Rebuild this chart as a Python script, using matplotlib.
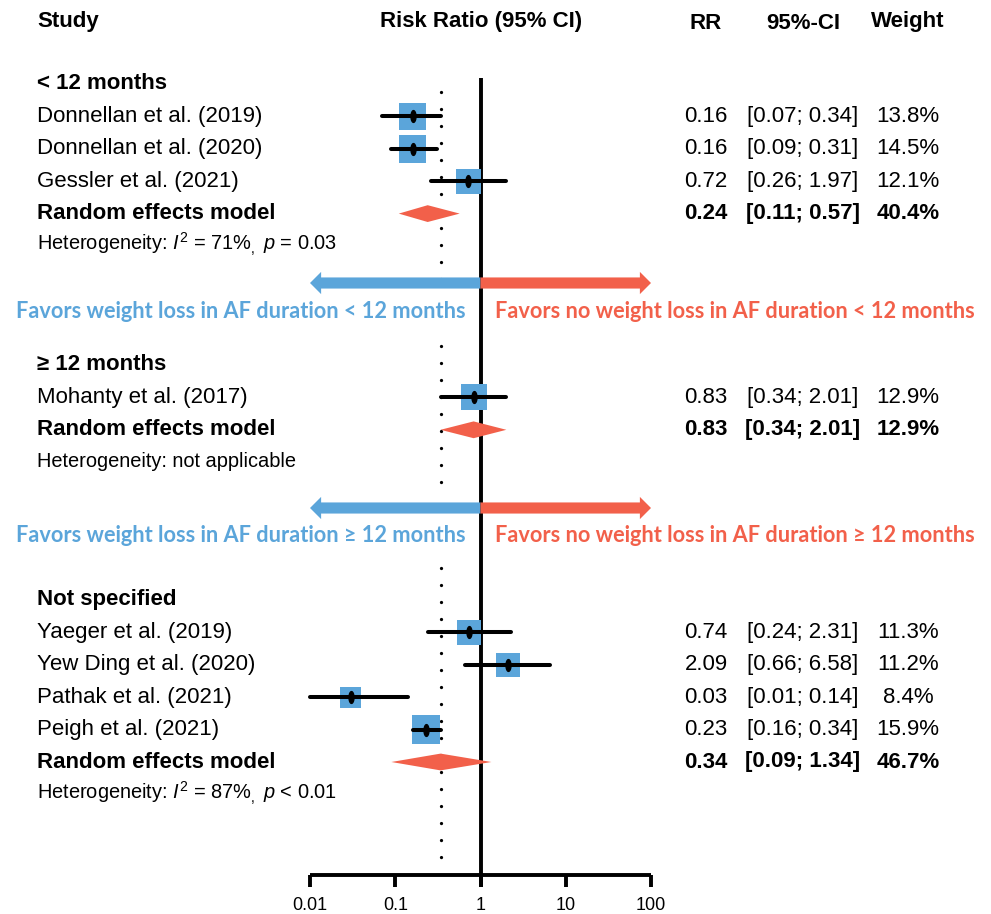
import matplotlib
matplotlib.use("Agg")
import matplotlib.pyplot as plt
import numpy as np
from matplotlib.patches import Polygon, FancyArrowPatch
from matplotlib.path import Path

plt.rcParams['font.family'] = ['Liberation Sans', 'DejaVu Sans']
plt.rcParams['mathtext.fontset'] = 'custom'
plt.rcParams['mathtext.rm'] = 'Liberation Sans'
plt.rcParams['mathtext.it'] = 'Liberation Sans:italic'
plt.rcParams['mathtext.bf'] = 'Liberation Sans:bold'

# ---------------- data ----------------
section_names = ['< 12 months', '\u2265 12 months', 'Not specified']

studies_s1 = ['Donnellan et al. (2019)', 'Donnellan et al. (2020)', 'Gessler et al. (2021)']
rr_s1 = [0.16, 0.16, 0.72]
lo_s1 = [0.07, 0.09, 0.26]
hi_s1 = [0.34, 0.31, 1.97]
w_s1 = [13.8, 14.5, 12.1]

studies_s2 = ['Mohanty et al. (2017)']
rr_s2 = [0.83]
lo_s2 = [0.34]
hi_s2 = [2.01]
w_s2 = [12.9]

studies_s3 = ['Yaeger et al. (2019)', 'Yew Ding et al. (2020)', 'Pathak et al. (2021)', 'Peigh et al. (2021)']
rr_s3 = [0.74, 2.09, 0.03, 0.23]
lo_s3 = [0.24, 0.66, 0.01, 0.16]
hi_s3 = [2.31, 6.58, 0.14, 0.34]
w_s3 = [11.3, 11.2, 8.4, 15.9]

re_rr = [0.24, 0.83, 0.34]
re_lo = [0.11, 0.34, 0.09]
re_hi = [0.57, 2.01, 1.34]
re_w = [40.4, 12.9, 46.7]

het_text = [r'Heterogeneity: $\mathit{I}^2$ = 71%$_,$ $\mathit{p}$ = 0.03',
            'Heterogeneity: not applicable',
            r'Heterogeneity: $\mathit{I}^2$ = 87%$_,$ $\mathit{p}$ < 0.01']

overall_rr = 0.34
x_ticks = [0.01, 0.1, 1, 10, 100]
x_tick_labels = ['0.01', '0.1', '1', '10', '100']

favors_left = ['Favors weight loss in AF duration < 12 months',
               'Favors weight loss in AF duration \u2265 12 months']
favors_right = ['Favors no weight loss in AF duration < 12 months',
                'Favors no weight loss in AF duration \u2265 12 months']

sections = [
    (studies_s1, rr_s1, lo_s1, hi_s1, w_s1),
    (studies_s2, rr_s2, lo_s2, hi_s2, w_s2),
    (studies_s3, rr_s3, lo_s3, hi_s3, w_s3),
]

# ---------------- layout ----------------
W, H = 991, 914
BLUE = '#5BA5DA'
RED = '#F2604A'
FS = 16
FS_HET = 14.4

section_top = [84, 365, 600]
row_h = 32.4
arrow_y = [283, 508]
arrow_text_y = [312, 535]
x_lab = 37
x_rr, x_ci, x_w = 706, 803, 908
axis_y = 875
px_per_dec = 85.25
x001_px = 310

fig = plt.figure(figsize=(W / 100, H / 100), dpi=100)
axt = fig.add_axes([0, 0, 1, 1])
axt.set_xlim(0, W)
axt.set_ylim(H, 0)
axt.axis('off')

ax = fig.add_axes([0, 0, 1, 1])
ax.set_xscale('log')
ax.set_xlim(10 ** (-2 - x001_px / px_per_dec), 10 ** (-2 + (W - x001_px) / px_per_dec))
ax.set_ylim(H, 0)
ax.axis('off')
ax.patch.set_alpha(0)

# headers
axt.text(x_lab, 27, 'Study', fontsize=FS, fontweight='bold', ha='left', va='baseline')
axt.text(481, 27, 'Risk Ratio (95% CI)', fontsize=FS, fontweight='bold', ha='center', va='baseline')
axt.text(x_rr, 29, 'RR', fontsize=FS, fontweight='bold', ha='center', va='baseline')
axt.text(x_ci, 29, '95%-CI', fontsize=FS, fontweight='bold', ha='center', va='baseline')
axt.text(x_w, 27, 'Weight', fontsize=FS, fontweight='bold', ha='center', va='baseline')

# reference lines
ax.plot([1, 1], [78, axis_y + 12], color='black', lw=2.8, solid_capstyle='butt', zorder=2)
dot_segments = [(92, 281), (346, 486), (568, 859)]
for y0, y1 in dot_segments:
    ax.plot([overall_rr, overall_rr], [y0, y1], color='black', lw=2.4,
            linestyle=(0, (0.001, 5.1)), dash_capstyle='round', zorder=1)

# ellipse marker for point estimates
t = np.linspace(0, 2 * np.pi, 60)
ell = Path(np.column_stack([0.42 * np.cos(t), np.sin(t)]), closed=True)

def fmt(v):
    return f'{v:.2f}'

for si, (names, rr, lo, hi, w) in enumerate(sections):
    top = section_top[si]
    axt.text(x_lab, top + 5, section_names[si], fontsize=FS, fontweight='bold', ha='left', va='baseline')
    for k, name in enumerate(names):
        y = top + (k + 1) * row_h
        axt.text(x_lab, y + 5.5, name, fontsize=FS, ha='left', va='baseline')
        ax.scatter([rr[k]], [y], marker='s', s=27 * w[k], color=BLUE, edgecolors='none', zorder=3)
        ax.plot([lo[k], hi[k]], [y, y], color='black', lw=2.9, solid_capstyle='round', zorder=4)
        ax.plot([rr[k]], [y], marker=ell, markersize=8.5, color='black', zorder=5, linestyle='none')
        axt.text(x_rr, y + 5.5, fmt(rr[k]), fontsize=FS, ha='center', va='baseline')
        axt.text(x_ci, y + 5.5, f'[{fmt(lo[k])}; {fmt(hi[k])}]', fontsize=FS, ha='center', va='baseline')
        axt.text(x_w, y + 5.5, f'{w[k]:.1f}%', fontsize=FS, ha='center', va='baseline')
    # random effects
    y = top + (len(names) + 1) * row_h
    axt.text(x_lab, y + 5.5, 'Random effects model', fontsize=FS, fontweight='bold', ha='left', va='baseline')
    dh = 8.4
    poly = Polygon([(re_lo[si], y), (re_rr[si], y - dh), (re_hi[si], y), (re_rr[si], y + dh)],
                   closed=True, facecolor=RED, edgecolor='none', zorder=3)
    ax.add_patch(poly)
    axt.text(x_rr, y + 5.5, fmt(re_rr[si]), fontsize=FS, fontweight='bold', ha='center', va='baseline')
    axt.text(x_ci, y + 5.5, f'[{fmt(re_lo[si])}; {fmt(re_hi[si])}]', fontsize=FS, fontweight='bold',
             ha='center', va='baseline')
    axt.text(x_w, y + 5.5, f'{re_w[si]:.1f}%', fontsize=FS, fontweight='bold', ha='center', va='baseline')
    # heterogeneity
    y = top + (len(names) + 2) * row_h
    axt.text(x_lab, y + 5, het_text[si], fontsize=FS_HET, ha='left', va='baseline')

# favours arrows
arrow_style = 'simple,head_length=8,head_width=16,tail_width=8'
for ai in range(2):
    y = arrow_y[ai]
    a1 = FancyArrowPatch((1, y), (x_ticks[0], y), arrowstyle=arrow_style, mutation_scale=1,
                         color=BLUE, shrinkA=0, shrinkB=0, zorder=6, lw=0)
    a2 = FancyArrowPatch((1, y), (x_ticks[-1], y), arrowstyle=arrow_style, mutation_scale=1,
                         color=RED, shrinkA=0, shrinkB=0, zorder=6, lw=0)
    ax.add_patch(a1)
    ax.add_patch(a2)

# favours text with width fitting
renderer = fig.canvas.get_renderer()
fav_font = ['Lato', 'DejaVu Sans']
probe = axt.text(0, 0, favors_left[0], fontsize=14, family=fav_font, fontweight='bold')
wpx = probe.get_window_extent(renderer).width
probe.remove()
fav_fs = 14 * 453 / wpx
for ai in range(2):
    ty = arrow_text_y[ai]
    axt.text(240.5, ty, favors_left[ai], fontsize=fav_fs, family=fav_font, fontweight='bold',
             color=BLUE, ha='center', va='center')
    axt.text(734.5, ty, favors_right[ai], fontsize=fav_fs, family=fav_font, fontweight='bold',
             color=RED, ha='center', va='center')

# x axis
ax.plot([x_ticks[0], x_ticks[-1]], [axis_y, axis_y], color='black', lw=2.8, solid_capstyle='butt', zorder=2)
for tv, tl in zip(x_ticks, x_tick_labels):
    ax.plot([tv, tv], [axis_y, axis_y + 12], color='black', lw=2.8, solid_capstyle='butt', zorder=2)
    ax.text(tv, 910, tl, fontsize=13, ha='center', va='baseline')

fig.savefig('out.png', dpi=100)
